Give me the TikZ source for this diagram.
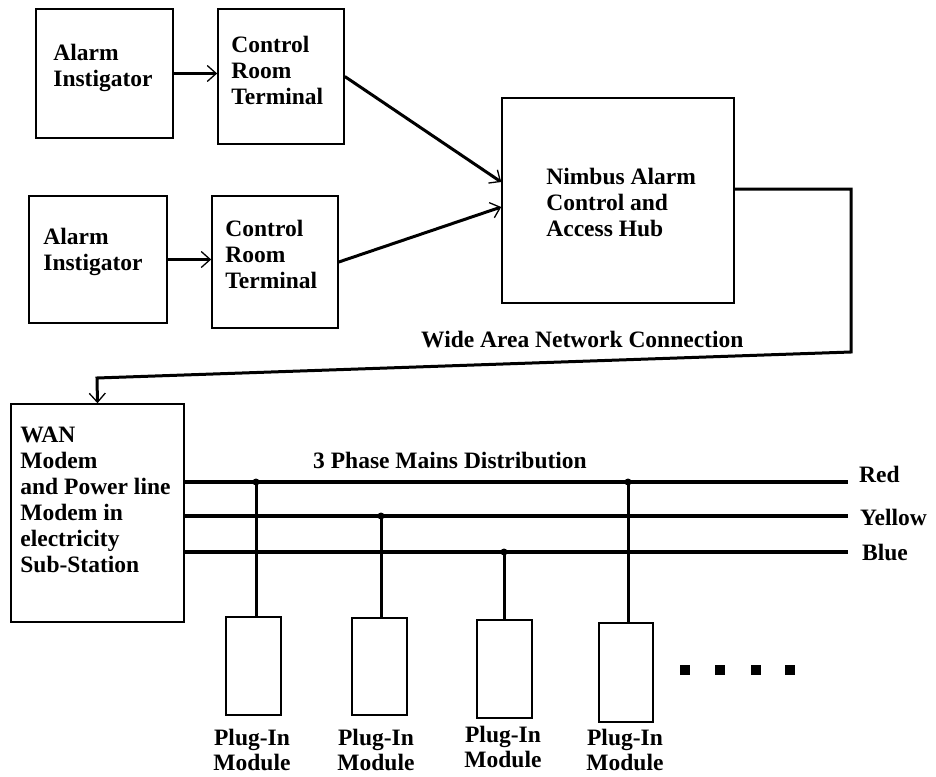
\documentclass[tikz,border=0pt]{standalone}
\usepackage{fontspec}
\setmainfont{Liberation Serif}
\usetikzlibrary{arrows.meta}
\begin{document}
\begin{tikzpicture}[x=1pt,y=-1pt,
  box/.style={draw=black, line width=1.6pt, rectangle, inner sep=0pt},
  txt/.style={font=\fontsize{23.5}{26}\selectfont\bfseries, align=left, inner sep=0pt},
  ctxt/.style={font=\fontsize{23.5}{25}\selectfont\bfseries, align=center, inner sep=0pt},
  arr/.style={line width=3.5pt, -{Straight Barb[length=9pt,width=16pt,line width=1.3pt]}},
  feed/.style={line width=3pt, -{Straight Barb[length=9pt,width=16pt,line width=1.3pt]}},
  phase/.style={line width=4.5pt},
  tap/.style={line width=3pt},
  junc/.style={fill=black, circle, inner sep=0pt, minimum size=7pt},
  dotsq/.style={fill=black, rectangle, inner sep=0pt, minimum size=10pt}]
\useasboundingbox (0,0) rectangle (936,776);

% upper boxes
\node[box, minimum width=137pt, minimum height=129pt,
  label={[txt, anchor=north west, xshift=18pt, yshift=-36pt]north west:Alarm\\Instigator}] (A1) at (104.5,73.5) {};
\node[box, minimum width=126pt, minimum height=135pt,
  label={[txt, anchor=north west, xshift=14pt, yshift=-28pt]north west:Control\\Room\\Terminal}] (C1) at (281,76.5) {};
\node[box, minimum width=138pt, minimum height=127pt,
  label={[txt, anchor=north west, xshift=15pt, yshift=-33pt]north west:Alarm\\Instigator}] (A2) at (98,259.5) {};
\node[box, minimum width=126pt, minimum height=132pt,
  label={[txt, anchor=north west, xshift=14pt, yshift=-25pt]north west:Control\\Room\\Terminal}] (C2) at (275,262) {};
\node[box, minimum width=232pt, minimum height=205pt,
  label={[txt, anchor=north west, xshift=45pt, yshift=-71pt]north west:Nimbus Alarm\\Control and\\Access Hub}] (Hub) at (618,200.5) {};

% WAN box
\node[box, minimum width=173pt, minimum height=218pt,
  label={[txt, anchor=north west, xshift=10pt, yshift=-23.5pt]north west:WAN\\Modem\\and Power line\\Modem in\\electricity\\Sub-Station}] (WAN) at (97.5,513) {};

% arrows top
\draw[arr] (A1.east) -- (A1.east -| C1.west);
\draw[arr] (A2.east) -- (A2.east -| C2.west);
\draw[feed] (C1.east) -- ([yshift=18.5pt]Hub.west);
\draw[feed] (C2.east) -- ([yshift=-6.5pt]Hub.west);

% WAN connection
\coordinate (wtop) at (851,189);
\coordinate (wr) at (851,352);
\coordinate (wl) at (97,378);
\draw[feed, line join=miter] ([yshift=11.5pt]Hub.east) -- (wtop) -- (wr) -- (wl) -- (WAN.north);
\node[txt, anchor=base west] (wanlbl) at (421,347) {Wide Area Network Connection};

% three phase lines
\coordinate (rE) at (848,482);
\coordinate (yE) at (848,516);
\coordinate (bE) at (848,552);
\draw[phase] (WAN.east |- rE) -- (rE);
\draw[phase] (WAN.east |- yE) -- (yE);
\draw[phase] (WAN.east |- bE) -- (bE);
\node[txt, anchor=base west] (phlbl) at (313,468) {3 Phase Mains Distribution};
\node[txt, anchor=base west] (red) at (859,482) {Red};
\node[txt, anchor=base west] (yellow) at (860,525) {Yellow};
\node[txt, anchor=base west] (blue) at (862,560) {Blue};

% modules
\node[box, minimum width=55pt, minimum height=98pt,
  label={[ctxt, anchor=north, xshift=-1.5pt, yshift=-13pt]south:Plug-In\\Module}] (M1) at (253.5,666) {};
\node[box, minimum width=55pt, minimum height=97pt,
  label={[ctxt, anchor=north, xshift=-3.5pt, yshift=-13pt]south:Plug-In\\Module}] (M2) at (379.5,666.5) {};
\node[box, minimum width=55pt, minimum height=98pt,
  label={[ctxt, anchor=north, xshift=-1.5pt, yshift=-7pt]south:Plug-In\\Module}] (M3) at (504.5,669) {};
\node[box, minimum width=54pt, minimum height=99pt,
  label={[ctxt, anchor=north, xshift=-1pt, yshift=-6pt]south:Plug-In\\Module}] (M4) at (626,672.5) {};

% junctions and taps
\node[junc] (J1) at (256,482) {};
\node[junc] (J2) at (381,516) {};
\node[junc] (J3) at (504,552) {};
\node[junc] (J4) at (628,482) {};
\draw[tap] (J1.center) -- (J1 |- M1.north);
\draw[tap] (J2.center) -- (J2 |- M2.north);
\draw[tap] (J3.center) -- (J3 |- M3.north);
\draw[tap] (J4.center) -- (J4 |- M4.north);

% continuation dots
\node[dotsq] (d1) at (685,670) {};
\node[dotsq] (d2) at (720,670) {};
\node[dotsq] (d3) at (756,670) {};
\node[dotsq] (d4) at (790,670) {};
\end{tikzpicture}
\end{document}
